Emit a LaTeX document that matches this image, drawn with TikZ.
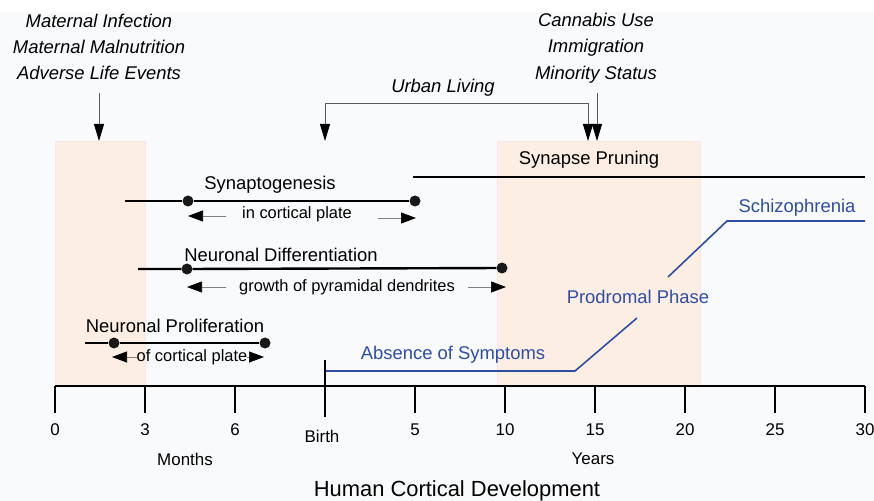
\documentclass[tikz,border=0pt]{standalone}
\usepackage{fontspec}
\setmainfont{Liberation Sans}
\usepackage{tikz}
\usetikzlibrary{arrows.meta, positioning}

\definecolor{peach}{RGB}{252,238,226}
\definecolor{peachedge}{RGB}{250,228,228}
\definecolor{paper}{RGB}{249,250,252}
\definecolor{schizo}{RGB}{46,78,166}

\tikzset{
  lbl/.style={font=\fontsize{18.5}{22}\selectfont, inner sep=0pt},
  small/.style={font=\fontsize{16.5}{20}\selectfont, inner sep=0pt},
  risk/.style={font=\fontsize{18.5}{26.5}\selectfont\itshape, align=center, inner sep=0pt},
  axislbl/.style={font=\fontsize{17}{20}\selectfont, inner sep=0pt},
  bar/.style={line width=2.4bp},
  dot/.style={circle, fill=black!90, inner sep=0pt, minimum size=11bp},
  hint/.style={-{Triangle[length=15bp,width=11bp,color=black]}, line width=0.7bp, draw=gray},
  factor/.style={-{Triangle[length=17bp,width=10bp,color=black]}, line width=0.9bp, draw=gray!70!black},
  window/.style={fill=peach, draw=peachedge, line width=0.6bp},
  phase/.style={draw=schizo, line width=1.6bp},
  phaselbl/.style={font=\fontsize{18.5}{22}\selectfont, text=schizo, inner sep=0pt}
}

\begin{document}
\begin{tikzpicture}[x=1bp, y=-1bp]
  \useasboundingbox (0,0) rectangle (874,501);
  \fill[paper] (0,12) rectangle (874,501);

  % critical windows
  \draw[window] (55,141) rectangle (145,386);
  \draw[window] (497,141) rectangle (700,386);

  % risk factors
  \node[risk] (prenatal) at (99,47) {Maternal Infection\\Maternal Malnutrition\\Adverse Life Events};
  \node[risk] (social) at (596,48) {Cannabis Use\\Immigration\\Minority Status};
  \node[risk] (urban) at (443,88) {Urban Living};
  \coordinate (prenatal_in) at (99,141);
  \coordinate (social_in) at (597,141);
  \coordinate (urban_l) at (325,141);
  \coordinate (urban_r) at (588,141);
  \draw[factor] (99,93) -- (prenatal_in);
  \draw[factor] (597,93) -- (social_in);
  \draw[factor, {Triangle[length=17bp,width=10bp,color=black]}-{Triangle[length=17bp,width=10bp,color=black]}]
    (urban_l) -- ++(0,-38) -| (urban_r);

  % synapse pruning
  \node[lbl] (pruning) at (589,160) {Synapse Pruning};
  \coordinate (prune_s) at (413,177);
  \coordinate (prune_e) at (865,177);
  \draw[bar] (prune_s) -- (prune_e);

  % synaptogenesis
  \node[lbl] (synapto) at (270,185) {Synaptogenesis};
  \coordinate (syn_s) at (125,201);
  \node[dot] (syn_a) at (188,201) {};
  \node[dot] (syn_b) at (415,201) {};
  \draw[bar] (syn_s) -- (syn_a) -- (syn_b);
  \node[small] (syn_txt) at (297,214) {in cortical plate};
  \draw[hint] (226,216) -- (188,216);
  \draw[hint] (378,218) -- (416,218);

  % differentiation
  \node[lbl] (diff) at (281,255) {Neuronal Differentiation};
  \coordinate (diff_s) at (138,269);
  \node[dot] (diff_a) at (187,269) {};
  \node[dot] (diff_b) at (502,268) {};
  \draw[bar] (diff_s) -- (diff_a) -- (diff_b);
  \node[small] (diff_txt) at (347,287) {growth of pyramidal dendrites};
  \draw[hint] (226,287) -- (187,287);
  \draw[hint] (468,287) -- (506,287);

  % proliferation
  \node[lbl] (prolif) at (175,326) {Neuronal Proliferation};
  \coordinate (prolif_s) at (85,343);
  \node[dot] (prolif_a) at (114,343) {};
  \node[dot] (prolif_b) at (265,343) {};
  \draw[bar] (prolif_s) -- (prolif_a) -- (prolif_b);
  \node[small] (prolif_txt) at (192,357) {of cortical plate};
  \draw[hint] (prolif_txt.west) -- (112,357);
  \draw[hint] (prolif_txt.east) -- (264,357);

  % course of illness
  \node[phaselbl] (absent) at (453,355) {Absence of Symptoms};
  \node[phaselbl] (prodrome) at (638,297) {Prodromal Phase};
  \node[phaselbl] (schizo) at (797,208) {Schizophrenia};
  \coordinate (birth_top) at (325,360);
  \coordinate (absent_e) at (575,371);
  \coordinate (prodrome_in) at (637,318);
  \coordinate (prodrome_out) at (668,277);
  \coordinate (schizo_s) at (727,221);
  \coordinate (schizo_e) at (865,221);
  \draw[phase] (325,371) -- (absent_e) -- (prodrome_in);
  \draw[phase] (prodrome_out) -- (schizo_s) -- (schizo_e);

  % time axis
  \draw[line width=2.4bp] (55,386) -- (865,386);
  \foreach \x/\t in {55/0, 145/3, 235/6, 415/5, 505/10, 595/15, 685/20, 775/25, 865/30} {
    \draw[line width=2bp] (\x,386) -- (\x,413);
    \node[axislbl] at (\x,430) {\t};
  }
  \draw[line width=2bp] (birth_top) -- (325,417);
  \node[axislbl] (birth) at (322,436) {Birth};
  \node[axislbl] (months) at (185,459) {Months};
  \node[axislbl] (years) at (593,459) {Years};
  \node[font=\fontsize{22}{25}\selectfont, inner sep=0pt] (title) at (457,491) {Human Cortical Development};
\end{tikzpicture}
\end{document}
